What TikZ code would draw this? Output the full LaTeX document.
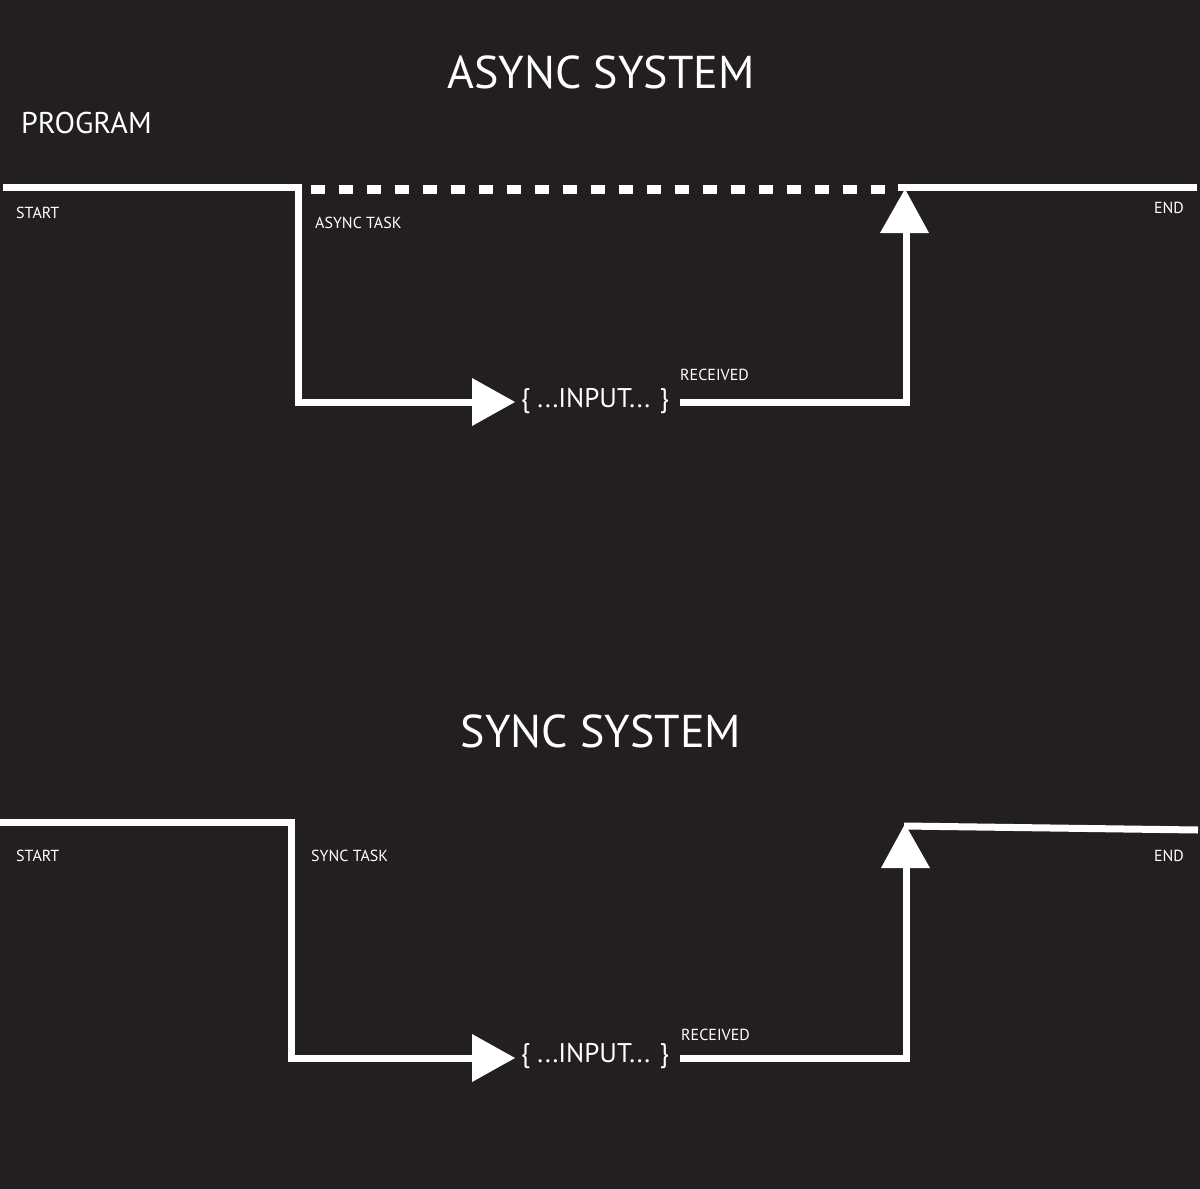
\documentclass[tikz,border=0pt]{standalone}
\usepackage{fontspec}
\setmainfont{PT Sans}
\definecolor{bg}{HTML}{231F20}
\begin{document}
\begin{tikzpicture}[x=1pt,y=-1pt,
  ln/.style={white,line width=7pt},
  tri/.style={fill=white},
  lbl/.style={white,inner sep=0pt,font=\fontsize{16}{18}\selectfont},
  ttl/.style={white,inner sep=0pt,font=\fontsize{46}{50}\selectfont},
  inp/.style={white,inner sep=0pt,font=\fontsize{27}{30}\selectfont}]
\fill[bg] (0,0) rectangle (1200,1189);
\useasboundingbox (0,0) rectangle (1200,1189);
% titles
\node[ttl] (t1) at (601,72) {ASYNC SYSTEM};
\node[ttl] (t2) at (601,731) {SYNC SYSTEM};
\node[white,inner sep=0pt,anchor=west,font=\fontsize{30}{32}\selectfont] (prog) at (21,123) {PROGRAM};
% ---- async
\coordinate (a0) at (3,187);
\coordinate (a1) at (298,187);
\coordinate (a2) at (298,402);
\coordinate (a3) at (474,402);
\coordinate (a4) at (680,402);
\coordinate (a5) at (906,402);
\coordinate (a6) at (906,232);
\coordinate (a7) at (898,187);
\coordinate (a8) at (1197,187);
\draw[ln] (a0) -- (a1) -- (a2) -- (a3);
\fill[tri] (472,378) -- (515,402) -- (472,426) -- cycle;
\node[inp] (in1) at (595,401) {\{ ...INPUT... \}};
\draw[ln] (a4) -- (a5) -- (a6);
\fill[tri] (880,233) -- (905,189) -- (929,233) -- cycle;
\draw[ln] (a7) -- (a8);
\draw[white,line width=9pt,dash pattern=on 14pt off 14pt,dash phase=-6pt] (305,189) -- (895,189);
\node[lbl,anchor=west] (s1) at (16,213) {START};
\node[lbl,anchor=west] (at) at (315,223) {ASYNC TASK};
\node[lbl,anchor=east] (e1) at (1184,208) {END};
\node[lbl,anchor=west] (r1) at (680,375) {RECEIVED};
% ---- sync
\coordinate (b0) at (0,822);
\coordinate (b1) at (291,822);
\coordinate (b2) at (291,1058);
\coordinate (b3) at (474,1058);
\coordinate (b4) at (680,1058);
\coordinate (b5) at (906,1058);
\coordinate (b6) at (906,867);
\coordinate (b7) at (904,826);
\coordinate (b8) at (1198,830);
\draw[ln] (b0) -- (b1) -- (b2) -- (b3);
\fill[tri] (472,1034) -- (515,1058) -- (472,1082) -- cycle;
\node[inp] (in2) at (595,1056) {\{ ...INPUT... \}};
\draw[ln] (b4) -- (b5) -- (b6);
\fill[tri] (881,868) -- (905,824) -- (930,868) -- cycle;
\draw[ln] (b7) -- (b8);
\node[lbl,anchor=west] (s2) at (16,856) {START};
\node[lbl,anchor=west] (st) at (311,856) {SYNC TASK};
\node[lbl,anchor=east] (e2) at (1184,856) {END};
\node[lbl,anchor=west] (r2) at (681,1035) {RECEIVED};
\end{tikzpicture}
\end{document}
